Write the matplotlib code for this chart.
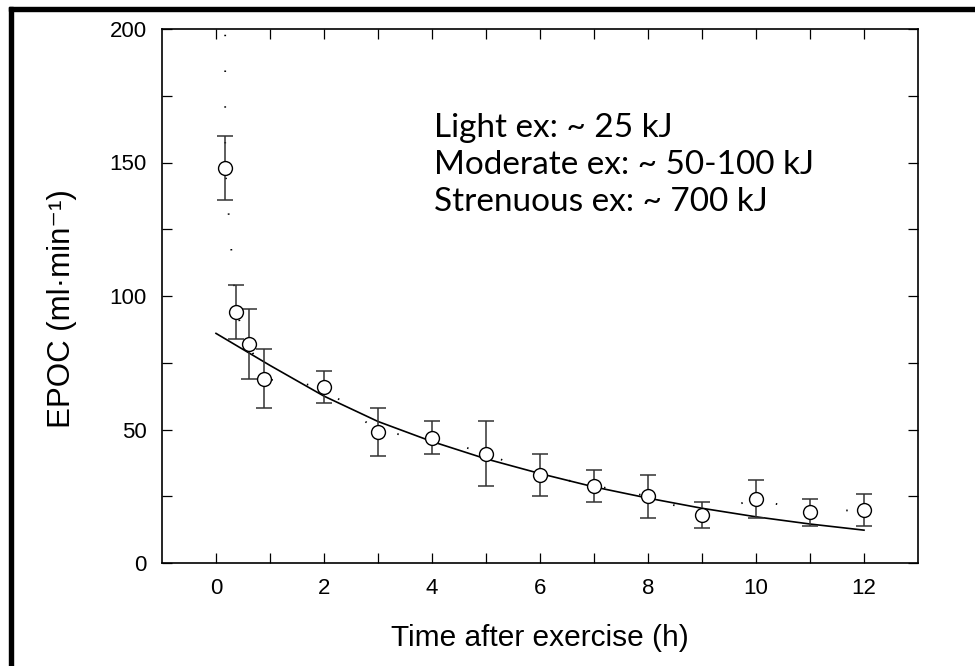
import numpy as np
import matplotlib
matplotlib.use('Agg')
import matplotlib.pyplot as plt
from matplotlib.patches import Rectangle

# mean EPOC values
time_h = [0.17, 0.37, 0.61, 0.89, 2, 3, 4, 5, 6, 7, 8, 9, 10, 11, 12]
epoc = [148, 94, 82, 69, 66, 49, 47, 41, 33, 29, 25, 18, 24, 19, 20]
epoc_err = [12, 10, 13, 11, 6, 9, 6, 12, 8, 6, 8, 5, 7, 5, 6]

# dotted line joining the means, starts above the plot top
dot_time = [0.17] + time_h
dot_epoc = [260] + epoc

# solid fitted curve, read at each hour
fit_time = [0, 1, 2, 3, 4, 5, 6, 7, 8, 9, 10, 11, 12]
fit_epoc = [86, 74, 62.5, 53, 45.5, 39, 33.5, 28.5, 24.3, 20.5, 17.3, 14.6, 12.3]

notes = ['Light ex: ~ 25 kJ', 'Moderate ex: ~ 50-100 kJ', 'Strenuous ex: ~ 700 kJ']
note_y = [159.5, 145.8, 132]

plt.rcParams['font.family'] = ['Liberation Sans', 'DejaVu Sans']

fig = plt.figure(figsize=(9.75, 6.66), dpi=100)
ax = fig.add_axes([162 / 975, 1 - 563 / 666, (918 - 162) / 975, (563 - 29) / 666])

ax.plot(fit_time, fit_epoc, color='black', lw=1.2, zorder=2)
ax.plot(dot_time, dot_epoc, color='black', lw=1.3, dashes=(0.8, 19), zorder=2)
ax.errorbar(time_h, epoc, yerr=epoc_err, fmt='none', ecolor='#333333',
            elinewidth=1.1, capsize=5.5, capthick=1.1, zorder=3)
ax.plot(time_h, epoc, 'o', ms=10, mfc='white', mec='black', mew=1.0, zorder=4)

for txt, yy in zip(notes, note_y):
    ax.text(4.04, yy, txt, fontsize=24, family=['Lato', 'DejaVu Sans'],
            va='baseline', ha='left')

ax.set_xlim(-1, 13)
ax.set_ylim(0, 200)
ax.set_xticks(range(0, 13))
ax.set_xticklabels([str(v) if v % 2 == 0 else '' for v in range(0, 13)])
ax.set_yticks(range(0, 201, 25))
ax.set_yticklabels([str(v) if v % 50 == 0 else '' for v in range(0, 201, 25)])
ax.tick_params(direction='in', length=7, width=0.9, labelsize=16,
               top=True, right=True, pad=11)
for sp in ax.spines.values():
    sp.set_linewidth(1.2)

ax.set_xlabel('Time after exercise (h)', fontsize=21.5, labelpad=18)
ax.set_ylabel('EPOC (ml·min⁻¹)', fontsize=22.5)
ax.yaxis.set_label_coords(-0.112, 0.476)

# black frame on the top and left edge of the picture
fig.patches.append(Rectangle((9 / 975, 1 - 11 / 666), 1, 4 / 666,
                             transform=fig.transFigure, color='black'))
fig.patches.append(Rectangle((9 / 975, 0), 4 / 975, 1 - 7 / 666,
                             transform=fig.transFigure, color='black'))

fig.savefig('out.png', dpi=100)
